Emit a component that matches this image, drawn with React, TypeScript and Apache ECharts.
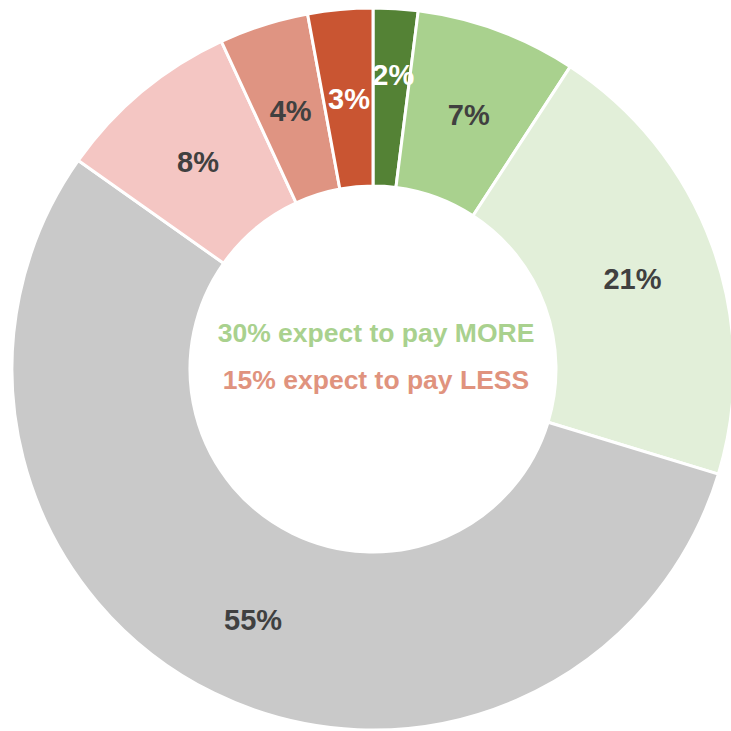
import React, { useEffect, useRef } from "react";
import * as echarts from "echarts";

const categories = ["Much more", "More", "Slightly more", "Same", "Slightly less", "Less", "Much less"];
const values = [2.0, 7.2, 20.5, 55.1, 8.3, 4.0, 2.9];
const labels = ["2%", "7%", "21%", "55%", "8%", "4%", "3%"];
const colors = ["#548235", "#a9d18e", "#e2efd9", "#c9c9c9", "#f4c6c3", "#df9482", "#c95532"];
const labelColors = ["#ffffff", "#404040", "#404040", "#404040", "#404040", "#404040", "#ffffff"];
const centerLines = ["30% expect to pay MORE", "15% expect to pay LESS"];
const centerColors = ["#a9d18e", "#e0937e"];

export default function App() {
  const ref = useRef<HTMLDivElement>(null);
  useEffect(() => {
    if (!ref.current) return;
    const chart = echarts.init(ref.current, null, { renderer: "svg" });
    const font = "'Liberation Sans', Arial, sans-serif";
    chart.setOption({
      animation: false,
      backgroundColor: "#ffffff",
      series: [
        {
          type: "pie",
          center: [373, 369],
          radius: [183, 361],
          startAngle: 90,
          clockwise: true,
          avoidLabelOverlap: false,
          label: {
            show: true,
            position: "inside",
            fontFamily: font,
            fontWeight: "bold",
            fontSize: 29,
          },
          labelLayout: (p: any) => (p.dataIndex === 0 ? { dy: -20, dx: 3 } : { dy: 4, dx: 1 }),
          labelLine: { show: false },
          itemStyle: { borderColor: "#ffffff", borderWidth: 3 },
          emphasis: { disabled: true },
          data: values.map((v, i) => ({
            name: categories[i],
            value: v,
            itemStyle: { color: colors[i] },
            label: {
              formatter: labels[i],
              color: labelColors[i],
            },
          })),
        },
      ],
      graphic: centerLines.map((t, i) => ({
        type: "text",
        x: 376,
        y: 333 + i * 47,
        style: {
          text: t,
          fill: centerColors[i],
          font: `bold 26.5px ${font}`,
          textAlign: "center",
          textVerticalAlign: "middle",
        },
      })),
    });
    return () => chart.dispose();
  }, []);
  return (
    <div
      ref={ref}
      style={{ position: "fixed", left: 0, top: 0, width: 731, height: 731 }}
    />
  );
}
